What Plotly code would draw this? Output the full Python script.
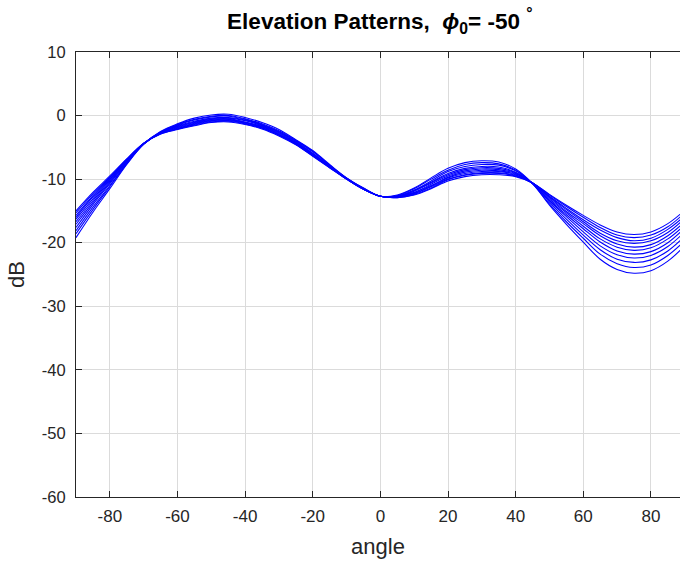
import plotly.graph_objects as go

# Elevation angle samples (degrees)
angles = [-90, -85, -80, -75, -70, -65, -60, -55, -50, -45, -40, -35, -30,
          -25, -20, -15, -10, -5, 0, 5, 10, 15, 20, 25, 30, 35, 40, 45,
          50, 55, 60, 65, 70, 75, 80, 85, 90]

# Pattern level in dB: one row per angle, one column per pattern (11 patterns)
levels_db = [
    [-15.0, -15.3, -15.7, -16.0, -16.3, -16.7, -17.1, -17.6, -18.1, -18.6, -19.2],
    [-12.1, -12.3, -12.6, -12.8, -13.1, -13.4, -13.7, -14.0, -14.4, -14.8, -15.2],
    [-9.5, -9.7, -9.8, -10.0, -10.1, -10.3, -10.5, -10.7, -11.0, -11.2, -11.5],
    [-6.8, -6.9, -6.9, -7.0, -7.1, -7.2, -7.3, -7.4, -7.5, -7.6, -7.7],
    [-4.4, -4.4, -4.4, -4.4, -4.4, -4.4, -4.5, -4.5, -4.5, -4.5, -4.5],
    [-2.9, -2.9, -2.8, -2.8, -2.8, -2.7, -2.7, -2.7, -2.6, -2.6, -2.5],
    [-2.2, -2.1, -2.1, -2.0, -1.9, -1.8, -1.7, -1.6, -1.5, -1.4, -1.3],
    [-1.6, -1.5, -1.4, -1.3, -1.2, -1.1, -1.0, -0.9, -0.7, -0.6, -0.4],
    [-1.1, -1.0, -0.9, -0.8, -0.7, -0.6, -0.5, -0.4, -0.2, -0.1, 0.1],
    [-1.0, -0.9, -0.8, -0.7, -0.6, -0.5, -0.4, -0.3, -0.1, 0.0, 0.2],
    [-1.4, -1.3, -1.2, -1.1, -1.1, -1.0, -0.8, -0.7, -0.6, -0.5, -0.3],
    [-2.1, -2.0, -1.9, -1.9, -1.8, -1.7, -1.6, -1.5, -1.4, -1.3, -1.1],
    [-3.2, -3.1, -3.0, -3.0, -2.9, -2.8, -2.7, -2.6, -2.5, -2.4, -2.2],
    [-4.6, -4.5, -4.5, -4.4, -4.3, -4.3, -4.2, -4.1, -4.0, -3.9, -3.8],
    [-6.4, -6.3, -6.3, -6.2, -6.1, -6.0, -6.0, -5.9, -5.7, -5.6, -5.5],
    [-8.2, -8.2, -8.1, -8.1, -8.0, -8.0, -8.0, -7.9, -7.8, -7.8, -7.7],
    [-10.0, -10.0, -10.0, -10.0, -9.9, -9.9, -9.9, -9.9, -9.9, -9.8, -9.8],
    [-11.6, -11.6, -11.6, -11.6, -11.5, -11.5, -11.5, -11.5, -11.5, -11.4, -11.4],
    [-12.7, -12.7, -12.7, -12.7, -12.7, -12.7, -12.7, -12.7, -12.7, -12.7, -12.7],
    [-12.9, -12.9, -12.8, -12.8, -12.8, -12.7, -12.7, -12.7, -12.6, -12.6, -12.5],
    [-12.5, -12.4, -12.3, -12.2, -12.1, -12.1, -11.9, -11.8, -11.7, -11.5, -11.4],
    [-11.5, -11.4, -11.2, -11.1, -11.0, -10.8, -10.6, -10.5, -10.3, -10.0, -9.8],
    [-10.3, -10.1, -10.0, -9.8, -9.7, -9.5, -9.3, -9.1, -8.8, -8.6, -8.3],
    [-9.6, -9.4, -9.3, -9.1, -8.9, -8.7, -8.5, -8.3, -8.0, -7.7, -7.4],
    [-9.3, -9.1, -9.0, -8.8, -8.6, -8.4, -8.2, -8.0, -7.7, -7.4, -7.1],
    [-9.3, -9.1, -9.0, -8.8, -8.7, -8.5, -8.3, -8.1, -7.8, -7.6, -7.3],
    [-9.6, -9.5, -9.4, -9.3, -9.2, -9.1, -9.0, -8.9, -8.7, -8.6, -8.4],
    [-10.6, -10.6, -10.6, -10.6, -10.6, -10.6, -10.7, -10.7, -10.7, -10.7, -10.7],
    [-12.4, -12.5, -12.7, -12.8, -12.9, -13.1, -13.3, -13.4, -13.6, -13.9, -14.1],
    [-14.1, -14.3, -14.6, -14.8, -15.1, -15.3, -15.6, -15.9, -16.3, -16.7, -17.1],
    [-15.7, -16.0, -16.4, -16.7, -17.0, -17.4, -17.8, -18.3, -18.8, -19.3, -19.9],
    [-17.2, -17.6, -18.0, -18.5, -18.9, -19.4, -19.9, -20.5, -21.1, -21.8, -22.6],
    [-18.3, -18.8, -19.2, -19.7, -20.2, -20.7, -21.3, -21.9, -22.6, -23.3, -24.2],
    [-18.7, -19.2, -19.7, -20.1, -20.7, -21.2, -21.8, -22.4, -23.1, -23.9, -24.8],
    [-18.3, -18.8, -19.3, -19.7, -20.3, -20.8, -21.4, -22.0, -22.7, -23.5, -24.4],
    [-17.0, -17.5, -17.9, -18.4, -18.9, -19.4, -20.0, -20.6, -21.3, -22.0, -22.9],
    [-14.9, -15.3, -15.8, -16.2, -16.7, -17.2, -17.7, -18.3, -19.0, -19.7, -20.5],
]

x_ticks = [-80, -60, -40, -20, 0, 20, 40, 60, 80]
x_tick_labels = ["-80", "-60", "-40", "-20", "0", "20", "40", "60", "80"]
y_ticks = [-60, -50, -40, -30, -20, -10, 0, 10]
y_tick_labels = ["-60", "-50", "-40", "-30", "-20", "-10", "0", "10"]

FONT = "Liberation Sans, Arial, Helvetica, sans-serif"
AXIS_COLOR = "#262626"
GRID_COLOR = "#dbdbdb"

fig = go.Figure()

n_patterns = len(levels_db[0])
for k in range(n_patterns):
    fig.add_trace(go.Scatter(
        x=angles,
        y=[row[k] for row in levels_db],
        mode="lines",
        line=dict(color="#0000ff", width=1.1, shape="spline", smoothing=1.0),
        showlegend=False,
        hoverinfo="skip",
    ))

fig.update_layout(
    width=680,
    height=561,
    margin=dict(l=76, r=0, t=52, b=64),
    paper_bgcolor="white",
    plot_bgcolor="white",
    font=dict(family=FONT, color=AXIS_COLOR, size=16),
    title=dict(
        text="<b>Elevation Patterns,  <i>ϕ</i><sub>0</sub>= -50 <sup>°</sup></b>",
        x=0.503, xref="paper", xanchor="center",
        y=1 - 21 / 561, yref="container", yanchor="middle",
        font=dict(family=FONT, size=22.5, color="black"),
    ),
)

fig.update_xaxes(
    range=[-90, 88.6],
    tickmode="array", tickvals=x_ticks, ticktext=x_tick_labels,
    ticks="inside", ticklen=6, tickwidth=1, tickcolor=AXIS_COLOR,
    ticklabelstandoff=4,
    showline=True, linecolor=AXIS_COLOR, linewidth=1, mirror="ticks",
    showgrid=True, gridcolor=GRID_COLOR, gridwidth=1,
    zeroline=False,
    tickfont=dict(family=FONT, size=17, color=AXIS_COLOR),
    title=dict(text="angle", font=dict(family=FONT, size=22, color=AXIS_COLOR), standoff=13),
)

fig.update_yaxes(
    range=[-60, 10],
    tickmode="array", tickvals=y_ticks, ticktext=y_tick_labels,
    ticks="inside", ticklen=6, tickwidth=1, tickcolor=AXIS_COLOR,
    ticklabelstandoff=6,
    showline=True, linecolor=AXIS_COLOR, linewidth=1,
    showgrid=True, gridcolor=GRID_COLOR, gridwidth=1,
    zeroline=False,
    tickfont=dict(family=FONT, size=16.5, color=AXIS_COLOR),
    title=dict(text="dB", font=dict(family=FONT, size=22, color=AXIS_COLOR), standoff=11),
)

fig.write_html("out.html")
